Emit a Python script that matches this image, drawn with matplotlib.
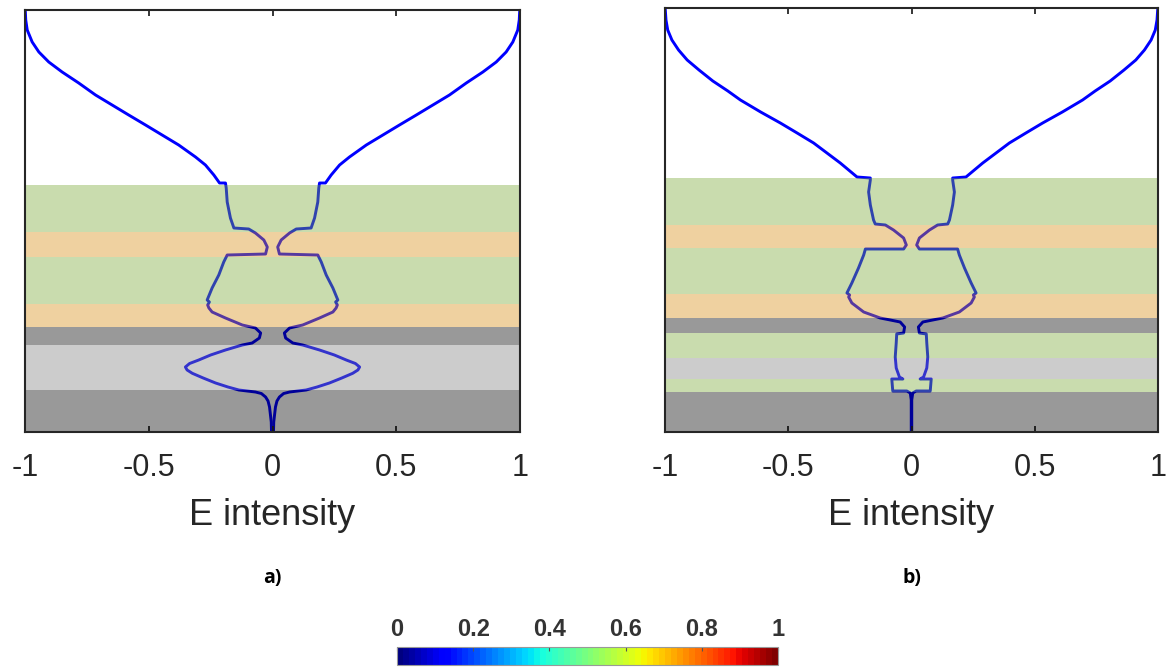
import numpy as np
import matplotlib.pyplot as plt
from matplotlib.cm import ScalarMappable
from matplotlib.colors import Normalize

plt.rcParams['font.family'] = ['Liberation Sans', 'DejaVu Sans']
plt.rcParams['axes.unicode_minus'] = False

# right half of the field profile (E intensity vs height), left half is mirrored
a_E = [0.999, 0.997, 0.991, 0.971, 0.944, 0.904, 0.850, 0.783, 0.715, 0.648, 0.581,
       0.513, 0.446, 0.379, 0.311, 0.271, 0.237, 0.214, 0.190,
       0.187, 0.183, 0.170, 0.156, 0.096,
       0.069, 0.035, 0.021, 0.028, 0.183,
       0.197, 0.217, 0.244, 0.264, 0.255, 0.262, 0.257,
       0.244, 0.190, 0.122, 0.069,
       0.048, 0.053, 0.082, 0.122,
       0.190, 0.250, 0.298, 0.335, 0.352, 0.345, 0.324, 0.280, 0.230, 0.180, 0.136,
       0.069, 0.045, 0.028, 0.018, 0.012, 0.005, 0.004]
a_z = [422, 412, 402, 390, 380, 370, 360, 349, 337, 327, 317,
       307, 297, 287, 275, 267, 257, 249, 249,
       244, 230, 214, 204, 203,
       199, 192, 185, 178, 177,
       170, 157, 144, 132, 130, 127, 124,
       120, 114, 107, 104,
       99, 94, 89, 87,
       82, 77, 72, 68.5, 65, 62, 58.7, 54, 49, 45, 42,
       40, 38.5, 35, 31, 25, 10, 0]

b_E = [0.999, 0.996, 0.989, 0.972, 0.945, 0.910, 0.862, 0.806, 0.745, 0.694, 0.612,
       0.532, 0.464, 0.397, 0.343, 0.289, 0.255, 0.221, 0.167,
       0.167, 0.174, 0.167, 0.154, 0.147, 0.106,
       0.073, 0.032, 0.021, 0.032, 0.187,
       0.194, 0.215, 0.242, 0.262, 0.251, 0.255,
       0.242, 0.194, 0.127, 0.086,
       0.046, 0.028, 0.032, 0.060,
       0.062, 0.066, 0.062, 0.049, 0.035, 0.080,
       0.076, 0.019, 0.005, 0.001, 0.001]
b_z = [423, 412, 402, 392, 382, 372, 362, 351, 341, 332, 320,
       309, 299, 289, 279, 269, 262, 255, 254,
       252, 240, 227, 212, 208, 207,
       202, 194, 187, 183, 183,
       177, 164, 149, 139, 137, 135,
       129, 120, 114, 112,
       110, 105, 99, 98,
       89, 75, 64, 55, 53, 53,
       41, 41, 39, 32, 0]

# layer stacks: (bottom, top, material)
a_layers = [(0, 42, 'dark'), (42, 87, 'light'), (87, 105, 'dark'), (105, 128, 'orange'),
            (128, 175.5, 'green'), (175.5, 200, 'orange'), (200, 247, 'green')]
b_layers = [(0, 40.3, 'dark'), (40.3, 52.7, 'green'), (52.7, 73.7, 'light'),
            (73.7, 98.7, 'green'), (98.7, 113.7, 'dark'), (113.7, 138, 'orange'),
            (138, 183.7, 'green'), (183.7, 207, 'orange'), (207, 254.3, 'green')]

tick_vals = [-1, -0.5, 0, 0.5, 1]
tick_text = ['-1', '-0.5', '0', '0.5', '1']
cbar_ticks = [0, 0.2, 0.4, 0.6, 0.8, 1]
cbar_text = ['0', '0.2', '0.4', '0.6', '0.8', '1']

mat_color = {'green': '#78A835', 'orange': '#D98E12', 'dark': '#000000', 'light': '#808080'}
line_level = 0.11
jet = plt.get_cmap('jet', 64)

fig = plt.figure(figsize=(11.75, 6.7), dpi=100)
ax_a = fig.add_axes([25 / 1175, 238 / 670, 495 / 1175, 422 / 670])
ax_b = fig.add_axes([665 / 1175, 238 / 670, 493 / 1175, 424 / 670])

panels = [(ax_a, a_E, a_z, a_layers, 422, 'a)'), (ax_b, b_E, b_z, b_layers, 424, 'b)')]
for ax, E, z, layers, top, tag in panels:
    E = np.array(E)
    z = np.array(z)
    lc = plt.cm.jet(line_level)
    ax.plot(E, z, color=lc, lw=2.1, zorder=1, solid_joinstyle='round')
    ax.plot(-E, z, color=lc, lw=2.1, zorder=1, solid_joinstyle='round')
    for lo, hi, mat in layers:
        ax.axhspan(lo, hi, color=mat_color[mat], alpha=0.4, lw=0, zorder=2)
    ax.set_xlim(-1, 1)
    ax.set_ylim(0, top)
    ax.set_yticks([])
    ax.set_xticks(tick_vals)
    ax.set_xticklabels(tick_text, fontsize=22, color='#262626')
    ax.tick_params(axis='x', direction='in', top=True, length=4, width=1.3,
                   color='#262626', pad=15)
    for s in ax.spines.values():
        s.set_linewidth(1.5)
        s.set_color('#262626')
        s.set_zorder(3)
    ax.set_xlabel('E intensity', fontsize=26, color='#262626', labelpad=11)
    ax.text(0.5, -0.345, tag, transform=ax.transAxes, ha='center', va='center',
            fontsize=14, fontweight='bold', family=['Open Sans', 'DejaVu Sans'])

cax = fig.add_axes([397 / 1175, 5 / 670, 381 / 1175, 18 / 670])
sm = ScalarMappable(norm=Normalize(0, 1), cmap=jet)
cb = fig.colorbar(sm, cax=cax, orientation='horizontal')
cax.xaxis.set_ticks_position('top')
cb.set_ticks(cbar_ticks)
cb.set_ticklabels(cbar_text)
cax.tick_params(axis='x', direction='in', length=3, width=0.8, color='#555555',
                labelsize=17, labelcolor='#333333', pad=4)
for lab in cax.get_xticklabels():
    lab.set_fontweight('bold')
cb.outline.set_edgecolor('#999999')
cb.outline.set_linewidth(0.8)

fig.savefig('out.png', dpi=100)
